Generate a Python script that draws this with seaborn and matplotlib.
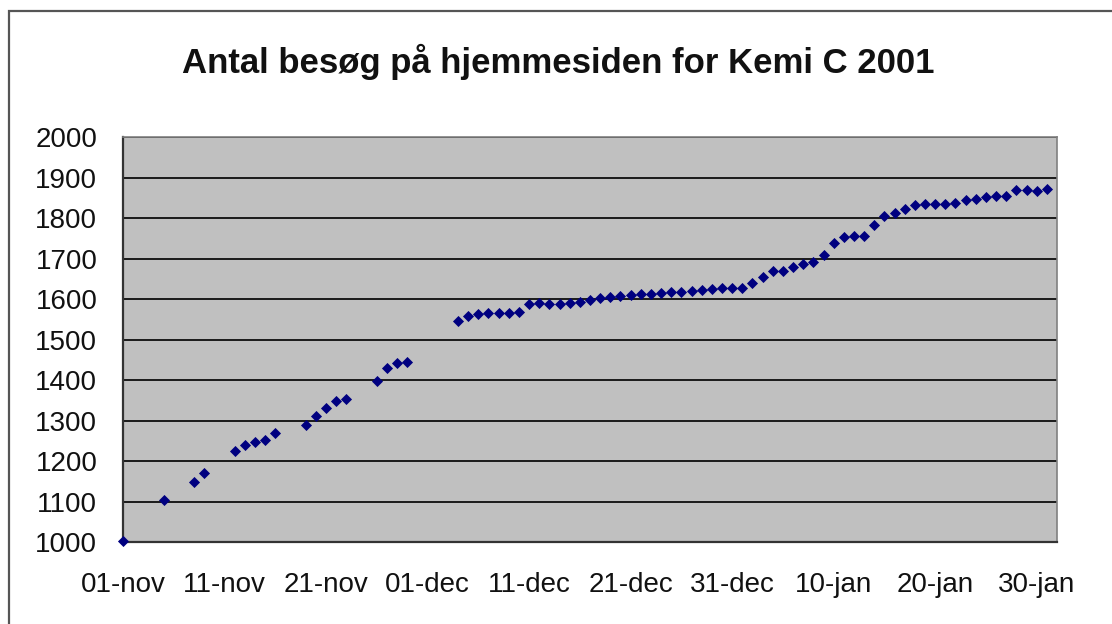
import numpy as np
import pandas as pd
import seaborn as sns
import matplotlib.pyplot as plt
from matplotlib.patches import Rectangle

# data
start_date = "2001-11-01"
dag = [0, 4, 7, 8, 11, 12, 13, 14, 15, 18, 19, 20, 21, 22, 25, 26, 27, 28,
       33, 34, 35, 36, 37, 38, 39, 40, 41, 42, 43, 44, 45, 46, 47, 48, 49, 50,
       51, 52, 53, 54, 55, 56, 57, 58, 59, 60, 61, 62, 63, 64, 65, 66, 67, 68,
       69, 70, 71, 72, 73, 74, 75, 76, 77, 78, 79, 80, 81, 82, 83, 84, 85, 86,
       87, 88, 89, 90, 91]
besog = [1002, 1104, 1148, 1172, 1226, 1240, 1248, 1253, 1271, 1290, 1312, 1332,
         1350, 1353, 1399, 1430, 1442, 1445,
         1547, 1559, 1564, 1567, 1566, 1566, 1569, 1588, 1590, 1589, 1589, 1591,
         1594, 1598, 1602, 1606, 1608, 1611, 1612, 1613, 1615, 1617, 1619, 1621,
         1623, 1625, 1627, 1627, 1628, 1641, 1654, 1671, 1671, 1679, 1687, 1693,
         1710, 1740, 1753, 1757, 1756, 1783, 1806, 1813, 1823, 1833, 1836, 1836,
         1836, 1839, 1844, 1847, 1852, 1855, 1854, 1869, 1869, 1868, 1872]

tick_dates = ["2001-11-01", "2001-11-11", "2001-11-21", "2001-12-01", "2001-12-11",
              "2001-12-21", "2001-12-31", "2002-01-10", "2002-01-20", "2002-01-30"]
tick_labels = ["01-nov", "11-nov", "21-nov", "01-dec", "11-dec",
               "21-dec", "31-dec", "10-jan", "20-jan", "30-jan"]
y_ticks = list(range(1000, 2001, 100))
titel = "Antal besøg på hjemmesiden for Kemi C 2001"

df = pd.DataFrame({
    "dato": pd.to_datetime(start_date) + pd.to_timedelta(dag, unit="D"),
    "besog": besog,
})

sns.set_style("white")
plt.rcParams['font.family'] = ['Liberation Sans', 'DejaVu Sans']

fig = plt.figure(figsize=(11.12, 6.24), dpi=100)
ax = fig.add_axes([123/1112, 1 - 542.3/624, (1057 - 123)/1112, (542.3 - 137.3)/624])
ax.set_facecolor("#c0c0c0")

sns.scatterplot(data=df, x="dato", y="besog", marker="D", s=32, color="#000080",
                edgecolor="#000080", linewidth=0, ax=ax, clip_on=False, zorder=5)

ax.set_xlim(pd.to_datetime("2001-11-01"), pd.to_datetime("2002-02-01"))
ax.set_ylim(1000, 2000)
ax.set_xticks(pd.to_datetime(tick_dates))
ax.set_xticklabels(tick_labels)
ax.set_yticks(y_ticks)
ax.set_xlabel("")
ax.set_ylabel("")
ax.grid(axis="y", color="#1a1a1a", linewidth=1.4)
ax.set_axisbelow(True)

for side in ["top", "right"]:
    ax.spines[side].set_color("#808080")
    ax.spines[side].set_linewidth(1.2)
for side in ["left", "bottom"]:
    ax.spines[side].set_color("#333333")
    ax.spines[side].set_linewidth(1.6)

ax.tick_params(axis="both", direction="out", length=6.5, width=1.2, color="#333333",
               labelsize=20, pad=12, labelcolor="#111111")
ax.tick_params(axis="x", pad=15)

fig.text(0.502, 1 - 73/624, titel, ha="center", va="baseline",
         fontsize=25, fontweight="bold", color="#111111")

# outer chart frame
fig.add_artist(Rectangle((9/1112, -0.1), 1.2, 0.1 + 1 - 11/624, transform=fig.transFigure,
                         fill=False, edgecolor="#555555", linewidth=1.6))

fig.savefig("out.png", dpi=100)
